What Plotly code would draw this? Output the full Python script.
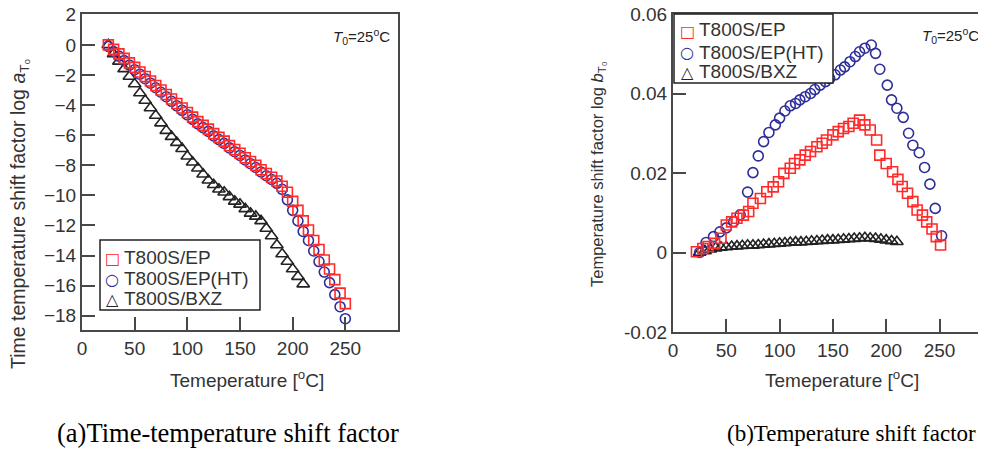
import plotly.graph_objects as go

# ---------------- data: (a) time-temperature shift factor ----------------
temp_a = [25, 30, 35, 40, 45, 50, 55, 60, 65, 70, 75, 80, 85, 90, 95, 100, 105, 110, 115, 120,
          125, 130, 135, 140, 145, 150, 155, 160, 165, 170, 175, 180, 185, 190, 195, 200, 205,
          210, 215, 220, 225, 230, 235, 240, 245, 250]
ep_a = [0.0, -0.3, -0.6, -0.9, -1.2, -1.5, -1.8, -2.1, -2.4, -2.7, -3.0, -3.3, -3.6, -3.9, -4.2,
        -4.5, -4.8, -5.1, -5.35, -5.6, -5.9, -6.15, -6.4, -6.7, -6.95, -7.2, -7.5, -7.75, -8.0,
        -8.3, -8.55, -8.8, -9.05, -9.4, -9.8, -10.4, -11.0, -11.7, -12.3, -13.0, -13.6, -14.3,
        -14.9, -15.6, -16.5, -17.2]
ht_a = [-0.1, -0.45, -0.75, -1.05, -1.35, -1.65, -1.95, -2.25, -2.55, -2.85, -3.15, -3.45, -3.75,
        -4.05, -4.35, -4.65, -4.95, -5.25, -5.5, -5.75, -6.05, -6.3, -6.55, -6.85, -7.1, -7.35,
        -7.65, -7.9, -8.15, -8.45, -8.7, -8.95, -9.2, -9.6, -10.3, -11.0, -11.7, -12.4, -13.0,
        -13.7, -14.4, -15.1, -15.8, -16.6, -17.4, -18.2]
temp_bxz_a = [25, 30, 35, 40, 45, 50, 55, 60, 65, 70, 75, 80, 85, 90, 95, 100, 105, 110, 115, 120,
              125, 130, 135, 140, 145, 150, 155, 160, 165, 170, 175, 180, 185, 190, 195, 200, 205, 210]
bxz_a = [0.0, -0.6, -1.1, -1.6, -2.1, -2.6, -3.2, -3.7, -4.2, -4.7, -5.2, -5.7, -6.1, -6.5, -6.9,
         -7.4, -7.8, -8.2, -8.6, -9.0, -9.3, -9.6, -9.8, -10.1, -10.4, -10.6, -10.9, -11.2, -11.4,
         -11.7, -12.2, -12.7, -13.3, -13.9, -14.4, -14.9, -15.4, -15.9]

# ---------------- data: (b) temperature shift factor ----------------
temp_ep_b = [22, 28, 33, 39, 45, 50, 55, 60, 66, 71, 75, 82, 88, 94, 99, 104, 110, 114, 119, 124,
             129, 135, 140, 144, 150, 155, 160, 165, 169, 175, 180, 185, 191, 194, 200, 206, 211,
             215, 220, 225, 229, 234, 238, 243, 247, 251]
ep_b = [0.0002, 0.001, 0.0015, 0.0023, 0.0036, 0.0069, 0.0077, 0.0086, 0.0094, 0.0103, 0.0124,
        0.0136, 0.0153, 0.0165, 0.0178, 0.0199, 0.0212, 0.0224, 0.0233, 0.0245, 0.0254, 0.0266,
        0.0275, 0.0283, 0.0296, 0.0304, 0.0312, 0.0317, 0.0325, 0.0333, 0.0321, 0.0308, 0.0283,
        0.0245, 0.0224, 0.0203, 0.0184, 0.0166, 0.0149, 0.0128, 0.0107, 0.0094, 0.0077, 0.0059,
        0.004, 0.0019]
temp_ht_b = [25, 31, 38, 44, 50, 57, 63, 70, 75, 80, 85, 90, 96, 100, 105, 110, 115, 119, 124, 129,
             133, 138, 143, 147, 152, 157, 161, 166, 171, 175, 180, 186, 190, 194, 201, 205, 210,
             216, 221, 225, 231, 236, 241, 246, 252]
ht_b = [0.0, 0.0025, 0.004, 0.0052, 0.0062, 0.0078, 0.0095, 0.0152, 0.0201, 0.0243, 0.0279,
        0.0302, 0.0321, 0.0338, 0.0356, 0.0369, 0.0375, 0.0384, 0.0392, 0.040, 0.041, 0.0421,
        0.043, 0.0438, 0.0447, 0.0459, 0.0467, 0.048, 0.0493, 0.0505, 0.0514, 0.0522, 0.0501,
        0.0461, 0.0421, 0.0384, 0.0363, 0.034, 0.030, 0.027, 0.0251, 0.0214, 0.0172, 0.0111,
        0.0042]
temp_bxz_b = [25, 30, 35, 40, 45, 50, 55, 60, 65, 70, 75, 80, 85, 90, 95, 100, 105, 110, 115, 120,
              125, 130, 135, 140, 145, 150, 155, 160, 165, 170, 175, 180, 185, 190, 195, 200, 205, 210]
bxz_b = [0.0, 0.0004, 0.0008, 0.0011, 0.0013, 0.0014, 0.0015, 0.0016, 0.0017, 0.0018, 0.0018,
         0.0019, 0.0020, 0.0021, 0.0022, 0.0023, 0.0024, 0.0025, 0.0026, 0.0026, 0.0027, 0.0028,
         0.0029, 0.0030, 0.0031, 0.0031, 0.0032, 0.0033, 0.0034, 0.0035, 0.0036, 0.0037, 0.0036,
         0.0035, 0.0033, 0.0031, 0.0029, 0.0027]

series_names = ["T800S/EP", "T800S/EP(HT)", "T800S/BXZ"]
x_ticks = [0, 50, 100, 150, 200, 250]
y_ticks_a = [-18, -16, -14, -12, -10, -8, -6, -4, -2, 0, 2]
y_ticks_b = [-0.02, 0, 0.02, 0.04, 0.06]
y_ticktext_b = ["-0.02", "0", "0.02", "0.04", "0.06"]

# page body keeps an 8px margin, so the figure is 8px smaller and coordinates are offset
OFF = 8
W, H = 986 - OFF, 455 - OFF
RED = "#ff2a2a"
BLUE = "#2e2e9a"
BLACK = "#222222"
TXT = "#333333"
FONT = "Liberation Sans, Arial, sans-serif"
SERIF = "Liberation Serif, Times New Roman, serif"

styles = [
    dict(symbol="square-open", color=RED, size=10, glyph="\u25a1"),
    dict(symbol="circle-open", color=BLUE, size=10, glyph="\u25cb"),
    dict(symbol="triangle-up-open", color=BLACK, size=11, glyph="\u25b3"),
]

fig = go.Figure()

data_a = [(temp_a, ep_a), (temp_a, ht_a), (temp_bxz_a, bxz_a)]
data_b = [(temp_ep_b, ep_b), (temp_ht_b, ht_b), (temp_bxz_b, bxz_b)]

order = [2, 1, 0]  # red squares on top
for xa, ya, data in (("x", "y", data_a), ("x2", "y2", data_b)):
    for i in order:
        xs, ys = data[i]
        st = styles[i]
        fig.add_trace(go.Scatter(
            x=xs, y=ys, mode="markers", name=series_names[i], showlegend=False,
            marker=dict(symbol=st["symbol"], size=st["size"], color=st["color"],
                        line=dict(width=1.6, color=st["color"])),
            xaxis=xa, yaxis=ya,
        ))


def px_x(p):
    return (p - OFF) / W


def px_y(p):
    return 1 - (p - OFF) / H


axis_common = dict(
    showline=True, linecolor="#484848", linewidth=2, ticks="inside", ticklen=13,
    tickwidth=1.5, tickcolor="#484848", showgrid=False, zeroline=False, automargin=False,
    ticklabeloverflow="allow",
    tickfont=dict(family=FONT, size=19, color=TXT),
)

# right panel is clipped by the picture edge: its axis scale is 1.066 px per degree
x2_right = (986 - 673) / 1.066

fig.update_layout(
    width=W, height=H,
    margin=dict(l=0, r=0, t=0, b=0),
    paper_bgcolor="white", plot_bgcolor="white",
    font=dict(family=FONT, color=TXT),
    showlegend=False,
    xaxis=dict(domain=[px_x(82), px_x(398)], range=[0, 300], anchor="y",
               tickvals=x_ticks, mirror=True, **axis_common),
    yaxis=dict(domain=[px_y(330), px_y(14)], range=[-18.95, 2.05], anchor="x",
               tickvals=y_ticks_a, mirror=True, **axis_common),
    xaxis2=dict(domain=[px_x(673), 1.0], range=[0, x2_right], anchor="y2",
                tickvals=x_ticks, mirror=True, **axis_common),
    yaxis2=dict(domain=[px_y(332), px_y(14)], range=[-0.02, 0.06], anchor="x2",
                tickvals=y_ticks_b, ticktext=y_ticktext_b, mirror=False, **axis_common),
)


def ann(x, y, text, size, family=FONT, color=TXT, xanchor="center", angle=0):
    fig.add_annotation(x=px_x(x), y=px_y(y), xref="paper", yref="paper", xanchor=xanchor,
                       yanchor="middle", showarrow=False, text=text, textangle=angle,
                       font=dict(family=family, size=size, color=color))


# axis titles
ann(247, 379, "Temeperature [<sup>o</sup>C]", 19)
ann(842, 379, "Temeperature [<sup>o</sup>C]", 19)
ann(19, 214, "Time temperature shift factor log <i>a</i><sub>T\u2080</sub>", 19.5, angle=-90)
ann(598, 174, "Temperature shift factor log <i>b</i><sub>T\u2080</sub>", 16.5, angle=-90)

# reference temperature notes
ann(392, 37, "<i>T</i><sub>0</sub>=25<sup>o</sup>C", 15, color="#222222", xanchor="right")
ann(981, 35, "<i>T</i><sub>0</sub>=25<sup>o</sup>C", 15, color="#222222", xanchor="right")

# legends (boxes + symbol glyphs + labels)
legend_specs = [
    dict(box=(100, 240, 260, 310), rows=[257, 278, 298], sym_x=112, txt_x=122),
    dict(box=(674, 14, 833, 83), rows=[30, 52, 72], sym_x=687, txt_x=697),
]
for spec in legend_specs:
    x0, y0, x1, y1 = spec["box"]
    fig.add_shape(type="rect", xref="paper", yref="paper",
                  x0=px_x(x0), x1=px_x(x1), y0=px_y(y1), y1=px_y(y0),
                  line=dict(color="#222222", width=1.5), fillcolor="white", layer="above")
    for i, ry in enumerate(spec["rows"]):
        st = styles[i]
        ann(spec["sym_x"], ry + 1, st["glyph"], 16, family="DejaVu Sans", color=st["color"])
        ann(spec["txt_x"], ry, series_names[i], 19, xanchor="left")

# captions
ann(228, 433, "(a)Time-temperature shift factor", 26.5, family=SERIF, color="#000000")
ann(851, 433, "(b)Temperature shift factor", 23, family=SERIF, color="#000000")

fig.write_html("out.html")
